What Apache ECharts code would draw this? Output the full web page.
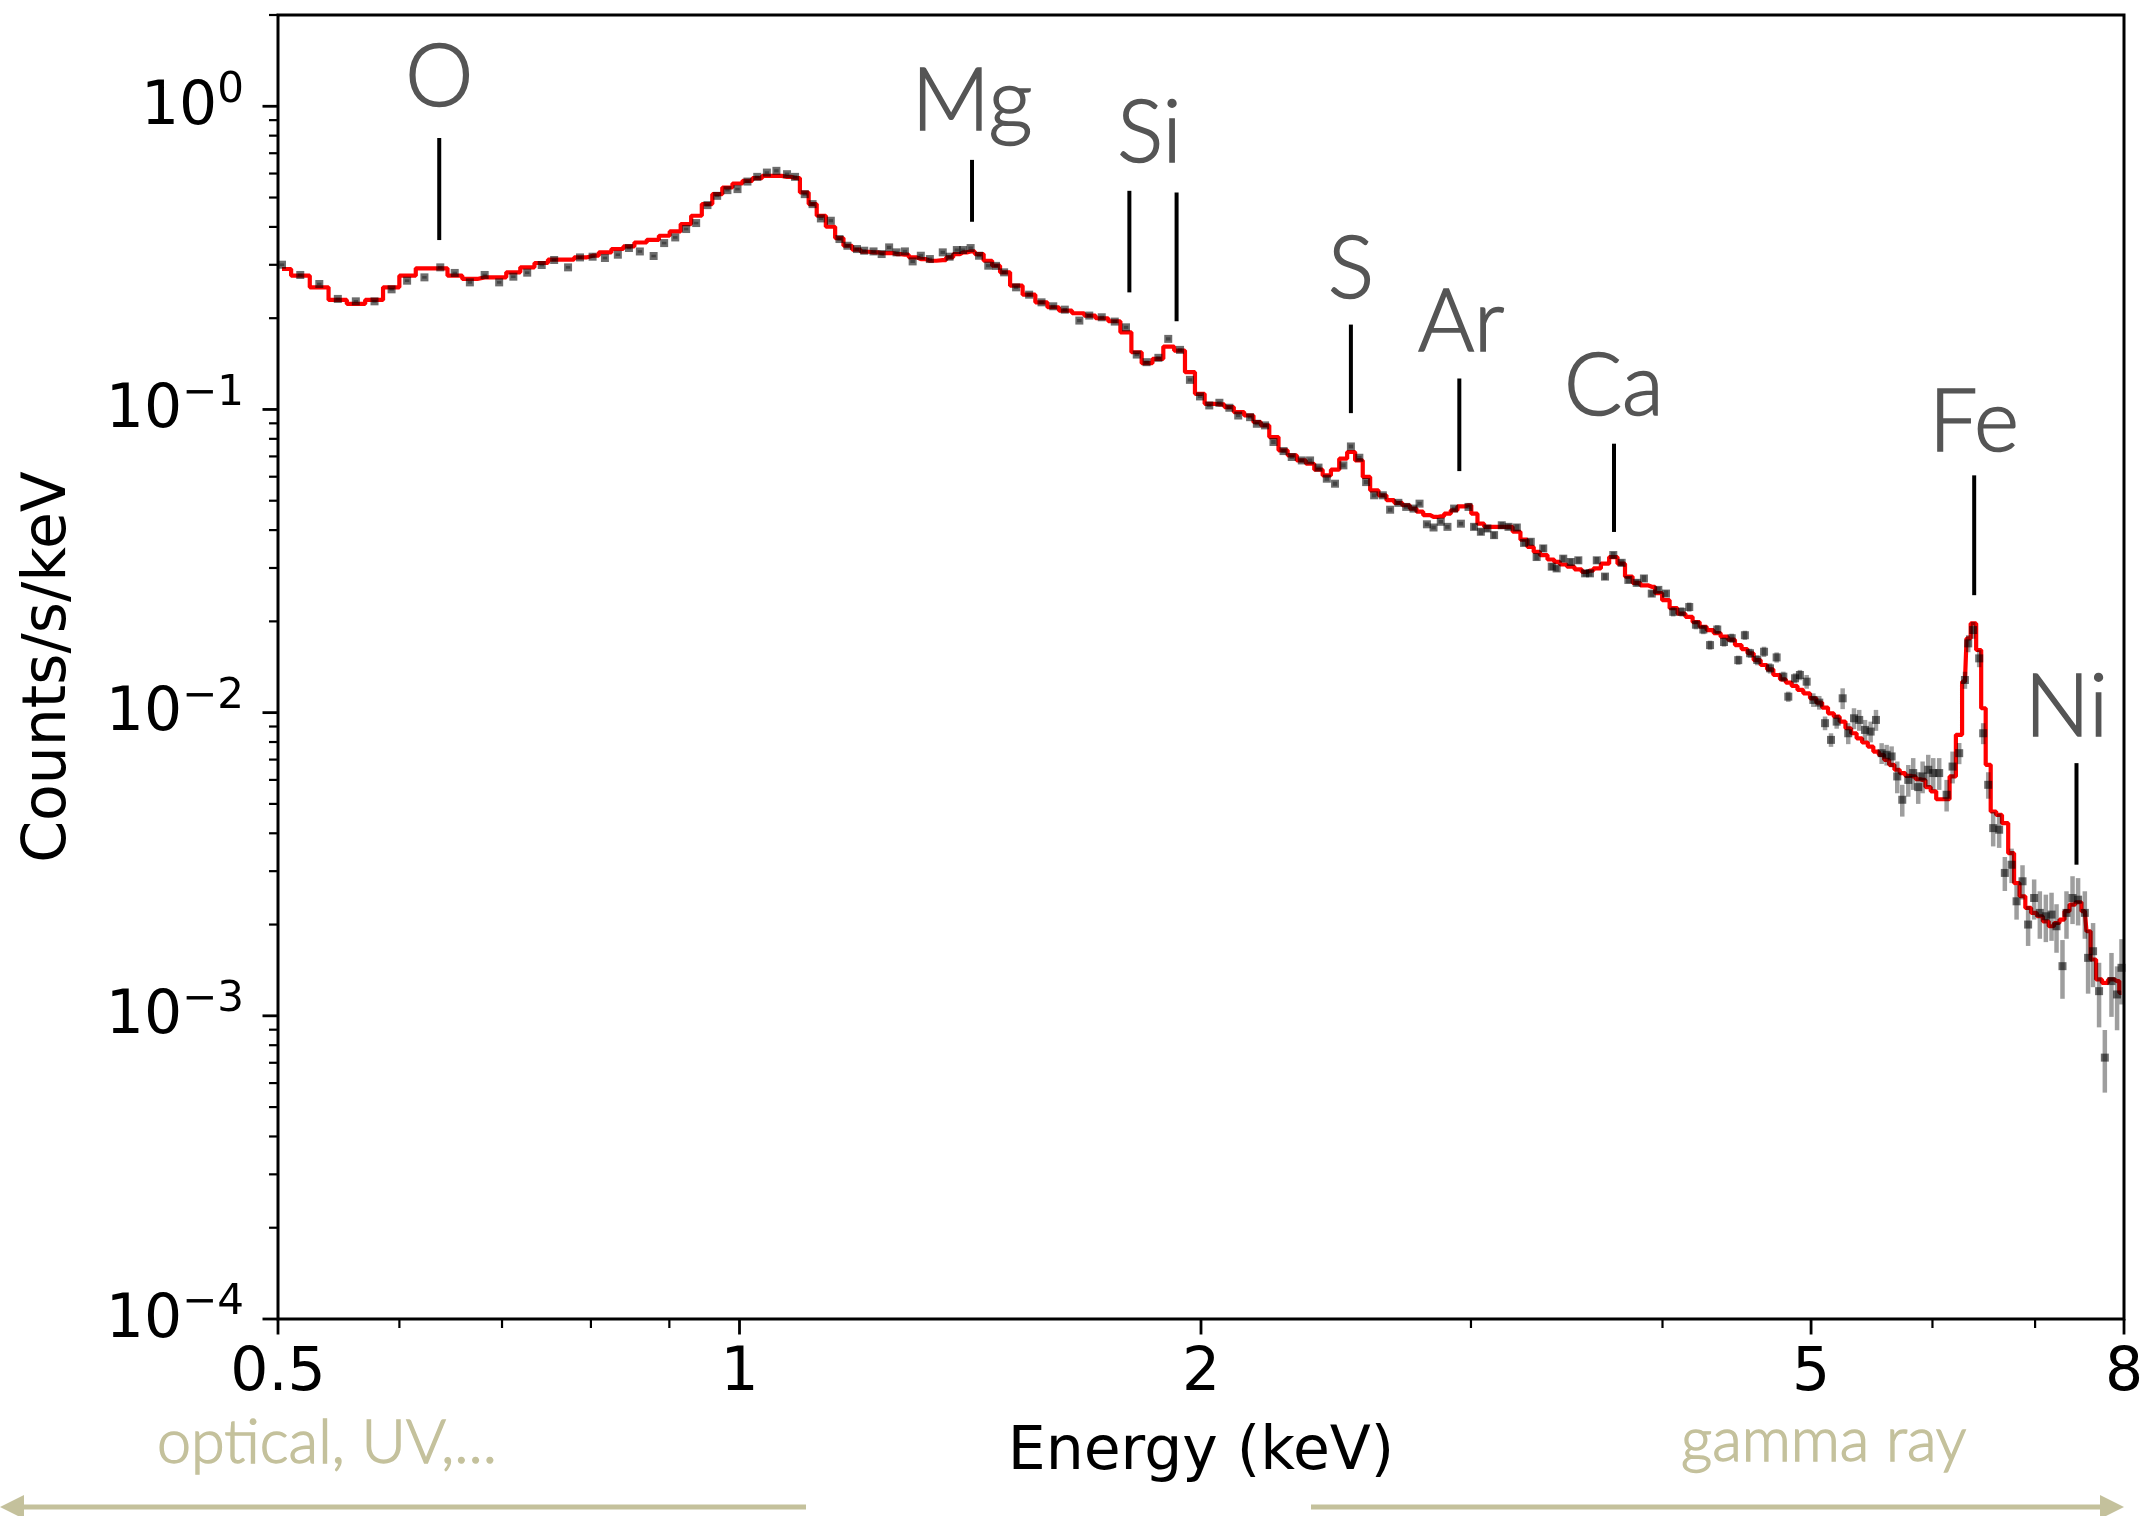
<!DOCTYPE html>
<html>
<head>
<meta charset="utf-8">
<script src="https://cdn.jsdelivr.net/npm/echarts@6/dist/echarts.min.js"></script>
<style>
html,body{margin:0;padding:0;background:#fff;}
#chart{width:2146px;height:1516px;}
</style>
</head>
<body>
<div id="chart"></div>
<script>
// ---------------- data ----------------
const energy = [
0.503,0.517,0.532,0.547,0.562,0.578,0.593,0.607,0.623,0.638,0.652,0.667,0.682,0.697,0.712,0.727,0.743,0.757,0.773,0.787,0.802,0.817,0.833,0.847,0.861,0.879,0.893,0.908,0.923,0.937,0.953,0.967,0.982,0.997,1.012,1.027,1.042,
1.057,1.074,1.087,1.103,1.116,1.130,1.147,1.162,1.176,1.193,1.206,1.223,1.238,1.252,1.266,1.282,1.297,1.313,1.331,1.357,1.371,1.386,1.399,1.415,1.433,1.453,1.470,1.488,1.515,1.545,1.574,1.602,1.630,1.666,1.691,1.723,1.757,1.787,1.816,1.843,1.876,1.904,1.938,1.967,1.997,2.025,2.056,2.087,2.115,2.153,2.175,
2.202,2.230,2.264,2.292,2.327,2.356,2.386,2.416,2.446,2.477,2.505,2.537,2.563,2.594,2.628,2.657,2.690,2.722,2.752,2.777,2.808,2.836,2.867,2.896,2.925,2.955,2.989,3.014,3.045,3.075,3.106,3.142,3.174,3.214,3.249,3.282,3.311,3.344,3.387,3.412,3.446,3.485,3.525,3.561,3.587,3.624,3.669,3.715,3.762,3.800,3.848,3.890,3.936,3.975,4.021,4.065,4.117,4.164,4.206,4.253,4.296,4.343,4.387,4.438,4.482,4.527,4.562,
4.612,4.659,4.701,4.748,4.796,4.832,4.881,4.917,4.967,5.017,5.062,5.106,5.152,5.196,5.243,5.287,5.333,5.375,5.422,5.468,5.512,5.559,5.601,5.643,5.691,5.734,5.786,5.829,5.873,5.912,5.962,6.007,6.061,6.129,6.184,6.246,6.300,6.331,6.378,6.436,6.475,6.524,6.573,6.632,6.689,6.757,6.808,6.869,6.927,6.990,7.050,7.114,7.175,7.229,7.294,7.338,7.405,7.467,7.543,7.580,7.637,7.706,7.773,7.851,7.917,7.970
];
const modelRate = [
0.2906,0.2762,0.2528,0.2297,0.2229,0.2297,0.2528,0.2762,0.2920,0.2920,0.2762,0.2694,0.2727,0.2727,0.2833,0.2942,0.3041,0.3118,0.3118,0.3173,0.3214,0.3296,0.3382,0.3449,0.3553,0.3627,0.3740,0.3865,0.4088,0.4354,0.4757,0.5131,0.5395,0.5562,0.5675,0.5793,0.5895,
0.5895,0.5850,0.5800,0.5195,0.4756,0.4354,0.4005,0.3675,0.3467,0.3364,0.3313,0.3297,0.3280,0.3280,0.3255,0.3239,0.3174,0.3134,0.3094,0.3110,0.3174,0.3255,0.3297,0.3321,0.3255,0.3094,0.2980,0.2833,0.2561,0.2391,0.2256,0.2173,0.2118,0.2076,0.2040,0.1999,0.1954,0.1797,0.1544,0.1421,0.1469,0.1612,0.1564,0.1327,0.1126,0.1044,0.1039,0.1018,0.0980,0.0955,0.0908,
0.0886,0.0811,0.0733,0.0706,0.0679,0.0662,0.0633,0.0606,0.0633,0.0688,0.0724,0.0679,0.0599,0.0541,0.0521,0.0502,0.0492,0.0483,0.0471,0.0460,0.0448,0.0442,0.0444,0.0453,0.0465,0.0479,0.0483,0.0453,0.0420,0.0410,0.0410,0.0410,0.0410,0.0395,0.0372,0.0352,0.0339,0.0331,0.0320,0.0314,0.0308,0.0303,0.0297,0.0291,0.0294,0.0299,0.0310,0.0326,0.0310,0.0281,0.0268,0.0263,0.0260,0.0248,0.0235,0.0221,0.0212,0.0207,0.0199,0.0192,0.0187,0.0183,0.0178,0.0174,0.0167,0.0162,0.0157,
0.01491,0.01436,0.01389,0.01331,0.01288,0.01256,0.01224,0.01188,0.01158,0.01115,0.01079,0.01039,0.00995,0.00970,0.00934,0.00888,0.00855,0.00823,0.00797,0.00773,0.00744,0.00726,0.00699,0.00673,0.00648,0.00632,0.00619,0.00616,0.00603,0.00600,0.00568,0.00550,0.00518,0.00518,0.00616,0.00845,0.01265,0.01757,0.01969,0.01609,0.01034,0.00673,0.00472,0.00460,0.00432,0.00344,0.00274,0.00248,0.00227,0.002185,0.00213,0.00205,0.001974,0.002024,0.002077,0.002213,0.002327,0.002369,0.002213,0.001901,0.001534,0.001318,0.001285,0.001318,0.001302,0.001191
];
const dataRate = [
0.3002,0.2777,0.2593,0.2315,0.2273,0.2273,0.2490,0.2659,0.2727,0.2942,0.2820,0.2625,0.2777,0.2625,0.2741,0.2826,0.2995,0.3111,0.2942,0.3173,0.3190,0.3159,0.3239,0.3408,0.3320,0.3207,0.3538,0.3693,0.3936,0.4119,0.4721,0.5065,0.5289,0.5330,0.5645,0.5850,0.6044,
0.6124,0.5970,0.5850,0.5130,0.4756,0.4266,0.4192,0.3648,0.3467,0.3381,0.3339,0.3321,0.3255,0.3424,0.3297,0.3321,0.3078,0.3214,0.3134,0.3297,0.3190,0.3356,0.3356,0.3407,0.3214,0.2980,0.2975,0.2833,0.2528,0.2391,0.2256,0.2189,0.2134,0.1964,0.2040,0.2014,0.1949,0.1866,0.1517,0.1432,0.1480,0.1709,0.1572,0.1252,0.1104,0.1031,0.1052,0.1013,0.0955,0.0943,0.0897,
0.0886,0.0781,0.0729,0.0697,0.0679,0.0679,0.0643,0.0591,0.0569,0.0654,0.0755,0.0693,0.0576,0.0521,0.0521,0.0467,0.0492,0.0477,0.0471,0.0489,0.0418,0.0408,0.0426,0.0410,0.0471,0.0420,0.0477,0.0410,0.0395,0.0405,0.0385,0.0415,0.0410,0.0408,0.0363,0.0366,0.0326,0.0348,0.0303,0.0299,0.0322,0.0314,0.0318,0.0288,0.0288,0.0318,0.0281,0.0331,0.0312,0.0274,0.0268,0.0277,0.0247,0.0254,0.0247,0.0215,0.0215,0.0223,0.0195,0.0188,0.0167,0.0188,0.0171,0.0176,0.0149,0.0180,0.0157,
0.01491,0.01588,0.01400,0.01521,0.01314,0.01129,0.01298,0.01331,0.01265,0.01101,0.01079,0.00923,0.00813,0.00934,0.01115,0.00855,0.00958,0.00946,0.00877,0.00866,0.00946,0.00735,0.00726,0.00717,0.00616,0.00516,0.00600,0.00632,0.00568,0.00616,0.00648,0.00632,0.00632,0.00536,0.00664,0.00735,0.01281,0.01692,0.01872,0.01510,0.00855,0.00578,0.00416,0.00411,0.00296,0.00315,0.002386,0.002778,0.00200,0.002447,0.002185,0.00213,0.002157,0.001974,0.001458,0.002185,0.002447,0.002416,0.002185,0.001553,0.001633,0.001206,0.000728,0.001302,0.001176,0.00144
];
const dataErr = [
0.0030,0.0028,0.0026,0.0024,0.0023,0.0023,0.0025,0.0027,0.0027,0.0029,0.0028,0.0026,0.0028,0.0026,0.0027,0.0028,0.0030,0.0031,0.0029,0.0032,0.0032,0.0032,0.0032,0.0034,0.0033,0.0032,0.0035,0.0037,0.0039,0.0041,0.0047,0.0051,0.0053,0.0053,0.0056,0.0059,0.0060,
0.0073,0.0072,0.0070,0.0062,0.0057,0.0051,0.0050,0.0044,0.0042,0.0041,0.0040,0.0040,0.0039,0.0041,0.0040,0.0040,0.0037,0.0039,0.0038,0.0040,0.0038,0.0040,0.0040,0.0041,0.0039,0.0036,0.0036,0.0034,0.0030,0.0029,0.0027,0.0026,0.0026,0.0024,0.0024,0.0024,0.0023,0.0022,0.0018,0.0017,0.0018,0.0021,0.0019,0.0015,0.0013,0.0012,0.0013,0.0012,0.0011,0.0011,0.0011,
0.0013,0.0012,0.0011,0.0010,0.0010,0.0010,0.0010,0.0009,0.0009,0.0010,0.0011,0.0010,0.0009,0.0008,0.0008,0.0007,0.0007,0.0007,0.0007,0.0007,0.0006,0.0006,0.0006,0.0006,0.0007,0.0006,0.0007,0.0010,0.0010,0.0010,0.0010,0.0010,0.0010,0.0010,0.0009,0.0009,0.0008,0.0009,0.0008,0.0007,0.0008,0.0008,0.0008,0.0007,0.0007,0.0008,0.0007,0.0008,0.0008,0.0007,0.0007,0.0007,0.0006,0.0006,0.0006,0.00075,0.00075,0.00078,0.00068,0.00066,0.00058,0.00066,0.0006,0.00062,0.00052,0.00063,0.00055,
0.00058,0.00062,0.00055,0.00059,0.00051,0.00044,0.00051,0.00052,0.00066,0.00057,0.00056,0.00048,0.00042,0.00049,0.00088,0.00068,0.00076,0.00075,0.00069,0.00068,0.00075,0.00058,0.00057,0.00057,0.00074,0.00062,0.00072,0.00076,0.00068,0.00074,0.00078,0.00076,0.00076,0.00064,0.00080,0.00059,0.00083,0.0011,0.0012,0.00098,0.00068,0.00058,0.00054,0.00053,0.00038,0.00041,0.00031,0.00036,0.00030,0.00037,0.00039,0.00038,0.00039,0.00036,0.00032,0.00039,0.00044,0.00043,0.00039,0.00037,0.00039,0.00029,0.00017,0.00031,0.00028,0.00035
];

// axis ticks
const xMajorTicks = [0.5, 1, 2, 5, 8];
const xMajorLabels = ['0.5', '1', '2', '5', '8'];
const xMinorTicks = [0.6, 0.7, 0.8, 0.9, 3, 4, 6, 7];
const yMajorTicks = [0.0001, 0.001, 0.01, 0.1, 1];
const yMajorExponents = ['\u22124', '\u22123', '\u22122', '\u22121', '0'];
const yMinorTicks = [0.0002,0.0003,0.0004,0.0005,0.0006,0.0007,0.0008,0.0009,
                     0.002,0.003,0.004,0.005,0.006,0.007,0.008,0.009,
                     0.02,0.03,0.04,0.05,0.06,0.07,0.08,0.09,
                     0.2,0.3,0.4,0.5,0.6,0.7,0.8,0.9,2];

// element line markers
const markerEnergy = [0.637, 1.418, 1.796, 1.928, 2.505, 2.948, 3.719, 6.388, 7.449];
const markerTop    = [0.786, 0.6655, 0.5262, 0.5195, 0.1905, 0.1265, 0.0771, 0.06062, 0.006815];
const markerBottom = [0.362, 0.4159, 0.2433, 0.1953, 0.09724, 0.06261, 0.03944, 0.0244, 0.003151];
// element labels
const elementNames  = ['O', 'Mg', 'Si', 'S', 'Ar', 'Ca', 'Fe', 'Ni'];
const elementEnergy = [0.637, 1.418, 1.851, 2.505, 2.956, 3.718, 6.386, 7.337];
const elementRate   = [1.240, 1.030, 0.8110, 0.2880, 0.1930, 0.1186, 0.0899, 0.01035];

const X_MIN = 0.5, X_MAX = 8, Y_MIN = 0.0001, Y_MAX = 2;

// ---------------- chart ----------------
const chart = echarts.init(document.getElementById('chart'), null, {renderer: 'canvas'});
const TICK_FONT = '60px "DejaVu Sans"';
const KHAKI = '#c4c19c';

const option = {
  animation: false,
  backgroundColor: '#ffffff',
  grid: {
    left: 278, top: 15, width: 1846, height: 1304,
    show: true, borderColor: '#000', borderWidth: 3, backgroundColor: 'transparent'
  },
  xAxis: {
    type: 'log', logBase: 10, min: X_MIN, max: X_MAX,
    name: 'Energy (keV)', nameLocation: 'middle', nameGap: 104,
    nameTextStyle: {fontFamily: 'DejaVu Sans', fontSize: 60, color: '#000'},
    axisLine: {show: false}, axisTick: {show: false}, axisLabel: {show: false},
    splitLine: {show: false}, minorTick: {show: false}, minorSplitLine: {show: false}
  },
  yAxis: {
    type: 'log', logBase: 10, min: Y_MIN, max: Y_MAX,
    name: 'Counts/s/keV', nameLocation: 'middle', nameGap: 199, nameRotate: 90,
    nameTextStyle: {fontFamily: 'DejaVu Sans', fontSize: 60, color: '#000'},
    axisLine: {show: false}, axisTick: {show: false}, axisLabel: {show: false},
    splitLine: {show: false}, minorTick: {show: false}, minorSplitLine: {show: false}
  },
  graphic: [
    {type: 'text', x: 157, y: 1443, silent: true,
     style: {text: 'optical, UV,...', font: '300 61px Lato', fill: KHAKI, stroke: KHAKI, lineWidth: 1.4,
             align: 'left', verticalAlign: 'middle'}},
    {type: 'text', x: 1681, y: 1441, silent: true,
     style: {text: 'gamma ray', font: '300 61px Lato', fill: KHAKI, stroke: KHAKI, lineWidth: 1.4,
             align: 'left', verticalAlign: 'middle'}},
    {type: 'line', silent: true, shape: {x1: 806, y1: 1507, x2: 16, y2: 1507}, style: {stroke: KHAKI, lineWidth: 5}},
    {type: 'polygon', silent: true, shape: {points: [[0, 1507], [24, 1495], [24, 1519]]}, style: {fill: KHAKI}},
    {type: 'line', silent: true, shape: {x1: 1311, y1: 1507, x2: 2104, y2: 1507}, style: {stroke: KHAKI, lineWidth: 5}},
    {type: 'polygon', silent: true, shape: {points: [[2124, 1507], [2100, 1495], [2100, 1519]]}, style: {fill: KHAKI}}
  ],
  series: [
    {
      name: 'model', type: 'line', step: 'middle', z: 2, silent: true,
      data: energy.map((e, i) => [e, modelRate[i]]),
      showSymbol: false, symbol: 'none',
      lineStyle: {color: '#ff0000', width: 4.2}
    },
    {
      name: 'errors', type: 'custom', z: 3, silent: true, clip: false,
      data: energy.map((e, i) => [e, dataRate[i], dataErr[i]]),
      renderItem: function (params, api) {
        const e = api.value(0), v = api.value(1), er = api.value(2);
        const lo = api.coord([e, Math.max(v - er, 1e-6)]);
        const hi = api.coord([e, v + er]);
        return {type: 'line', shape: {x1: lo[0], y1: lo[1], x2: hi[0], y2: hi[1]},
                style: {stroke: 'rgba(0,0,0,0.38)', lineWidth: 4.5}};
      }
    },
    {
      name: 'data', type: 'scatter', z: 4, silent: true,
      data: energy.map((e, i) => [e, dataRate[i]]),
      symbol: 'rect', symbolSize: 8,
      itemStyle: {color: 'rgba(0,0,0,0.72)'}
    },
    {
      name: 'markers', type: 'custom', z: 5, silent: true, clip: false,
      data: markerEnergy.map((e, i) => [e, markerTop[i], markerBottom[i]]),
      renderItem: function (params, api) {
        const t = api.coord([api.value(0), api.value(1)]);
        const b = api.coord([api.value(0), api.value(2)]);
        return {type: 'line', shape: {x1: t[0], y1: t[1], x2: b[0], y2: b[1]},
                style: {stroke: '#000', lineWidth: 4}};
      }
    },
    {
      name: 'elements', type: 'custom', z: 5, silent: true, clip: false,
      data: elementEnergy.map((e, i) => [e, elementRate[i]]),
      renderItem: function (params, api) {
        const p = api.coord([api.value(0), api.value(1)]);
        return {type: 'text', style: {text: elementNames[params.dataIndex], x: p[0], y: p[1],
                align: 'center', verticalAlign: 'middle', font: '300 86px Lato',
                fill: '#555555', stroke: '#555555', lineWidth: 1.6}};
      }
    },
    {
      name: 'xMajor', type: 'custom', z: 6, silent: true, clip: false,
      data: xMajorTicks.map(v => [v, Y_MIN]),
      renderItem: function (params, api) {
        const p = api.coord([api.value(0), api.value(1)]);
        return {type: 'group', children: [
          {type: 'line', shape: {x1: p[0], y1: p[1], x2: p[0], y2: p[1] + 15.5}, style: {stroke: '#000', lineWidth: 2.8}},
          {type: 'text', style: {text: xMajorLabels[params.dataIndex], x: p[0], y: p[1] + 55,
            align: 'center', verticalAlign: 'middle', font: TICK_FONT, fill: '#000'}}
        ]};
      }
    },
    {
      name: 'xMinor', type: 'custom', z: 6, silent: true, clip: false,
      data: xMinorTicks.map(v => [v, Y_MIN]),
      renderItem: function (params, api) {
        const p = api.coord([api.value(0), api.value(1)]);
        return {type: 'line', shape: {x1: p[0], y1: p[1], x2: p[0], y2: p[1] + 9}, style: {stroke: '#000', lineWidth: 2.2}};
      }
    },
    {
      name: 'yMajor', type: 'custom', z: 6, silent: true, clip: false,
      data: yMajorTicks.map(v => [X_MIN, v]),
      renderItem: function (params, api) {
        const p = api.coord([api.value(0), api.value(1)]);
        return {type: 'group', children: [
          {type: 'line', shape: {x1: p[0], y1: p[1], x2: p[0] - 15.5, y2: p[1]}, style: {stroke: '#000', lineWidth: 2.8}},
          {type: 'text', style: {
            text: '{m|10}{s|' + yMajorExponents[params.dataIndex] + '}',
            x: p[0] - 34, y: p[1] + 2, align: 'right', verticalAlign: 'middle',
            rich: {
              m: {fontFamily: 'DejaVu Sans', fontSize: 60, lineHeight: 77, fill: '#000'},
              s: {fontFamily: 'DejaVu Sans', fontSize: 42, lineHeight: 42, verticalAlign: 'top', fill: '#000'}
            }
          }}
        ]};
      }
    },
    {
      name: 'yMinor', type: 'custom', z: 6, silent: true, clip: false,
      data: yMinorTicks.map(v => [X_MIN, v]),
      renderItem: function (params, api) {
        const p = api.coord([api.value(0), api.value(1)]);
        return {type: 'line', shape: {x1: p[0], y1: p[1], x2: p[0] - 9, y2: p[1]}, style: {stroke: '#000', lineWidth: 2.2}};
      }
    }
  ]
};
chart.setOption(option);
</script>
</body>
</html>
